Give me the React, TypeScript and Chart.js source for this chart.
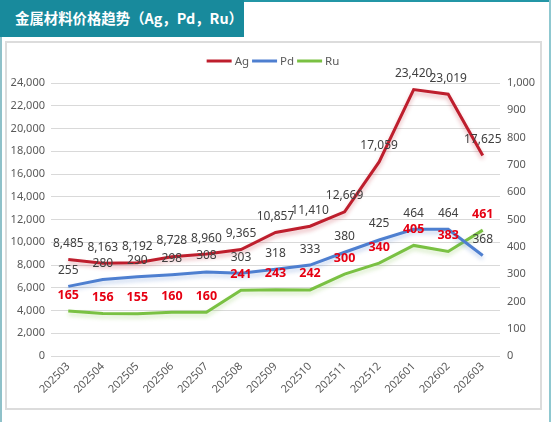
import React, { useEffect, useRef } from "react";
import { Chart, registerables } from "chart.js";

Chart.register(...registerables);

const titleText = "金属材料价格趋势（Ag，Pd，Ru）";
const categories = [
  "202503", "202504", "202505", "202506", "202507", "202508", "202509",
  "202510", "202511", "202512", "202601", "202602", "202603",
];
const agValues = [8485, 8163, 8192, 8728, 8960, 9365, 10857, 11410, 12669, 17059, 23420, 23019, 17625];
const pdValues = [255, 280, 290, 298, 308, 303, 318, 333, 380, 425, 464, 464, 368];
const ruValues = [165, 156, 155, 160, 160, 241, 243, 242, 300, 340, 405, 383, 461];
const seriesNames = ["Ag", "Pd", "Ru"];
const seriesColors = ["#be1e2d", "#4e7fd0", "#7ac143"];
const leftMax = 24000;
const leftStep = 2000;
const rightMax = 1000;
const rightStep = 100;

const labelStyles = [
  { font: "12px 'Noto Sans'", color: "#404040" },
  { font: "12px 'Noto Sans'", color: "#404040" },
  { font: "bold 12.5px 'Noto Sans'", color: "#e60012" },
];

const fmt = (v: number) => v.toLocaleString("en-US");

const shadowPlugin = {
  id: "lineShadow",
  beforeDatasetDraw(chart: any, args: any) {
    const ctx = chart.ctx;
    ctx.save();
    const c = seriesColors[args.index];
    ctx.shadowColor = c + "55";
    ctx.shadowBlur = 4;
    ctx.shadowOffsetY = 3;
  },
  afterDatasetDraw(chart: any) {
    chart.ctx.restore();
  },
};

const valueLabelPlugin = {
  id: "valueLabels",
  afterDatasetsDraw(chart: any) {
    const ctx = chart.ctx;
    chart.data.datasets.forEach((ds: any, i: number) => {
      const meta = chart.getDatasetMeta(i);
      const st = labelStyles[i];
      ctx.save();
      ctx.font = st.font;
      ctx.fillStyle = st.color;
      ctx.textAlign = "center";
      ctx.textBaseline = "middle";
      meta.data.forEach((pt: any, j: number) => {
        ctx.fillText(fmt(ds.data[j]), pt.x, pt.y - 16);
      });
      ctx.restore();
    });
  },
};

const legendPlugin = {
  id: "customLegend",
  afterDraw(chart: any) {
    const ctx = chart.ctx;
    ctx.save();
    ctx.font = "11.5px 'Noto Sans'";
    ctx.textBaseline = "middle";
    const lineLen = 25;
    const gapText = 3;
    const gapItem = 3;
    const widths = seriesNames.map((n) => lineLen + gapText + ctx.measureText(n).width);
    const total = widths.reduce((a, b) => a + b, 0) + gapItem * (widths.length - 1);
    let x = chart.width / 2 - total / 2;
    const y = 18;
    seriesNames.forEach((n, i) => {
      ctx.strokeStyle = seriesColors[i];
      ctx.lineWidth = 3;
      ctx.beginPath();
      ctx.moveTo(x, y);
      ctx.lineTo(x + lineLen, y);
      ctx.stroke();
      ctx.fillStyle = "#595959";
      ctx.textAlign = "left";
      ctx.fillText(n, x + lineLen + gapText, y + 0.5);
      x += widths[i] + gapItem;
    });
    ctx.restore();
  },
};

export default function App() {
  const ref = useRef<HTMLCanvasElement | null>(null);

  useEffect(() => {
    if (!ref.current) return;
    const values = [agValues, pdValues, ruValues];
    const chart = new Chart(ref.current, {
      type: "line",
      data: {
        labels: categories,
        datasets: values.map((d, i) => ({
          label: seriesNames[i],
          data: d,
          borderColor: seriesColors[i],
          backgroundColor: seriesColors[i],
          borderWidth: 3,
          pointRadius: 0,
          pointHoverRadius: 0,
          tension: 0,
          fill: false,
          yAxisID: i === 0 ? "y" : "y1",
        })),
      },
      options: {
        animation: false,
        responsive: false,
        maintainAspectRatio: false,
        layout: { padding: { top: 40, left: 0, right: 0, bottom: 0 } },
        plugins: {
          legend: { display: false },
          tooltip: { enabled: false },
        },
        scales: {
          x: {
            type: "category",
            offset: true,
            grid: { display: false, drawTicks: false },
            border: { display: false },
            ticks: {
              autoSkip: false,
              minRotation: 45,
              maxRotation: 45,
              padding: 4,
              color: "#595959",
              font: { family: "'Noto Sans'", size: 11 },
            },
            afterFit: (s: any) => {
              s.height = 53;
            },
          },
          y: {
            position: "left",
            min: 0,
            max: leftMax,
            grid: { color: "#d9d9d9", lineWidth: 1, drawTicks: false },
            border: { display: false },
            ticks: {
              stepSize: leftStep,
              padding: 6,
              color: "#595959",
              font: { family: "'Noto Sans'", size: 11 },
              callback: (v: any) => fmt(Number(v)),
            },
            afterFit: (s: any) => {
              s.width = 45;
            },
          },
          y1: {
            position: "right",
            min: 0,
            max: rightMax,
            grid: { display: false, drawTicks: false },
            border: { display: false },
            ticks: {
              stepSize: rightStep,
              padding: 7,
              color: "#595959",
              font: { family: "'Noto Sans'", size: 11 },
              callback: (v: any) => fmt(Number(v)),
            },
            afterFit: (s: any) => {
              s.width = 40;
            },
          },
        },
      },
      plugins: [shadowPlugin, valueLabelPlugin, legendPlugin],
    });
    return () => chart.destroy();
  }, []);

  return (
    <div
      style={{
        position: "absolute",
        left: 0,
        top: 0,
        width: 553,
        height: 422,
        background: "#ffffff",
        overflow: "hidden",
      }}
    >
      <div style={{ position: "absolute", left: 0, top: 0, width: 2, height: 422, background: "#8fc1c9" }} />
      <div style={{ position: "absolute", left: 0, top: 0, width: 551, height: 2, background: "#2396a6" }} />
      <div style={{ position: "absolute", left: 549, top: 0, width: 2, height: 422, background: "#8fc8d0" }} />
      <div
        style={{
          position: "absolute",
          left: 0,
          top: 0,
          width: 244,
          height: 37,
          background: "#188a9c",
          color: "#ffffff",
          fontFamily: "'Noto Sans CJK SC'",
          fontWeight: "bold",
          fontSize: 14.4,
          lineHeight: "35px",
          paddingLeft: 15,
          boxSizing: "border-box",
          whiteSpace: "nowrap",
        }}
      >
        {titleText}
      </div>
      <div
        style={{
          position: "absolute",
          left: 5,
          top: 41,
          width: 537,
          height: 369,
          border: "2px solid #dcdcdc",
          boxSizing: "border-box",
        }}
      />
      <canvas
        ref={ref}
        width={534}
        height={366}
        style={{ position: "absolute", left: 6, top: 43, width: 534, height: 366 }}
      />
    </div>
  );
}
